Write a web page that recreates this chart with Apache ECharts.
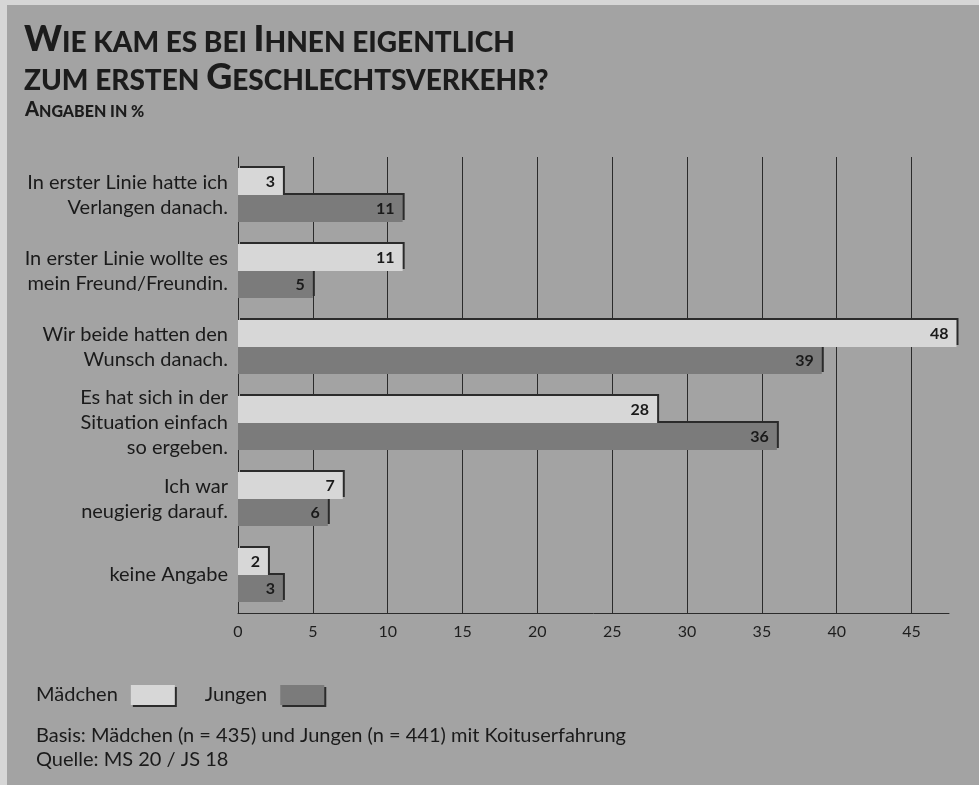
<!DOCTYPE html>
<html>
<head>
<meta charset="utf-8">
<script src="https://cdn.jsdelivr.net/npm/echarts@6/dist/echarts.min.js"></script>
<style>
  html, body { margin: 0; padding: 0; background: #d9d9d9; }
  #chart { width: 979px; height: 785px; }
</style>
</head>
<body>
<div id="chart"></div>
<script>
// Antworten (Kategorien von oben nach unten)
const categories = [
  'In erster Linie hatte ich\nVerlangen danach.',
  'In erster Linie wollte es\nmein Freund/Freundin.',
  'Wir beide hatten den\nWunsch danach.',
  'Es hat sich in der\nSituation einfach\nso ergeben.',
  'Ich war\nneugierig darauf.',
  'keine Angabe'
];
// Angaben in %
const maedchen = [3, 11, 48, 28, 7, 2];
const jungen = [11, 5, 39, 36, 6, 3];

const labelFont = 'Lato, "Open Sans", sans-serif';
const titleFont = 'Lato, "DejaVu Sans", sans-serif';

const chart = echarts.init(document.getElementById('chart'));

const barLabel = {
  show: true,
  position: 'insideRight',
  distance: 8,
  fontFamily: labelFont,
  fontWeight: 'bold',
  fontSize: 16,
  color: '#1a1a1a'
};

const option = {
  backgroundColor: '#a3a3a3',
  animation: false,
  graphic: [
    // heller Scanrand links und oben
    { type: 'rect', left: 0, top: 0, shape: { width: 7, height: 785 }, style: { fill: '#d6d6d6' }, silent: true },
    { type: 'rect', left: 0, top: 0, shape: { width: 979, height: 5 }, style: { fill: '#d6d6d6' }, silent: true }
  ],
  title: [
    {
      left: 19,
      top: 14,
      text: '{b|W}{s|IE KAM ES BEI }{b|I}{s|HNEN EIGENTLICH}\n{s|ZUM ERSTEN }{b|G}{s|ESCHLECHTSVERKEHR?}',
      textStyle: {
        rich: {
          b: { fontFamily: titleFont, fontWeight: 900, fontSize: 36, lineHeight: 38, verticalAlign: 'bottom', color: '#1c1c1c' },
          s: { fontFamily: titleFont, fontWeight: 900, fontSize: 28, lineHeight: 38, verticalAlign: 'bottom', color: '#1c1c1c' }
        }
      }
    },
    {
      left: 20,
      top: 91,
      text: '{b|A}{s|NGABEN IN %}',
      textStyle: {
        rich: {
          b: { fontFamily: titleFont, fontWeight: 900, fontSize: 20, lineHeight: 24, verticalAlign: 'bottom', color: '#1c1c1c' },
          s: { fontFamily: titleFont, fontWeight: 900, fontSize: 16, lineHeight: 24, verticalAlign: 'bottom', color: '#1c1c1c' }
        }
      }
    },
    {
      left: 31,
      top: 719,
      text: 'Basis: Mädchen (n = 435) und Jungen (n = 441) mit Koituserfahrung\nQuelle: MS 20 / JS 18',
      textStyle: {
        fontFamily: labelFont,
        fontWeight: 'normal',
        fontSize: 20,
        lineHeight: 24,
        color: '#1a1a1a'
      }
    }
  ],
  legend: {
    left: 31,
    top: 680,
    align: 'right',
    itemWidth: 44,
    itemHeight: 20,
    itemGap: 30,
    icon: 'rect',
    textStyle: { fontFamily: labelFont, fontSize: 20, color: '#1a1a1a', padding: [0, 8, 0, 0] },
    data: [
      { name: 'Mädchen', itemStyle: { color: '#d7d7d7', shadowColor: '#2b2b2b', shadowOffsetX: 2, shadowOffsetY: 2, shadowBlur: 0 } },
      { name: 'Jungen', itemStyle: { color: '#7b7b7b', shadowColor: '#2b2b2b', shadowOffsetX: 2, shadowOffsetY: 2, shadowBlur: 0 } }
    ]
  },
  grid: {
    left: 238,
    right: 30,
    top: 157,
    bottom: 172,
    containLabel: false
  },
  xAxis: {
    type: 'value',
    min: 0,
    max: 47.5,
    interval: 5,
    axisLine: { show: true, lineStyle: { color: '#2b2b2b', width: 1 } },
    axisTick: { show: false },
    axisLabel: {
      showMaxLabel: false,
      margin: 11,
      fontFamily: labelFont,
      fontSize: 16,
      color: '#1e1e1e'
    },
    splitLine: {
      show: true,
      showMinLine: false,
      showMaxLine: false,
      lineStyle: { color: '#2b2b2b', width: 1 }
    }
  },
  yAxis: {
    type: 'category',
    inverse: true,
    data: categories,
    axisLine: { show: true, lineStyle: { color: '#2b2b2b', width: 1 } },
    axisTick: { show: false },
    axisLabel: {
      margin: 10,
      fontFamily: labelFont,
      fontSize: 20,
      lineHeight: 25,
      color: '#1a1a1a'
    }
  },
  series: [
    {
      name: 'Mädchen',
      type: 'bar',
      data: maedchen,
      barWidth: 27,
      barGap: '0%',
      clip: false,
      z: 3,
      itemStyle: { color: '#d7d7d7', shadowColor: '#2b2b2b', shadowOffsetX: 2, shadowOffsetY: -2, shadowBlur: 0 },
      label: barLabel
    },
    {
      name: 'Jungen',
      type: 'bar',
      data: jungen,
      barWidth: 27,
      barGap: '0%',
      clip: false,
      z: 2,
      itemStyle: { color: '#7b7b7b', shadowColor: '#2b2b2b', shadowOffsetX: 2, shadowOffsetY: -2, shadowBlur: 0 },
      label: barLabel
    }
  ]
};

chart.setOption(option);
</script>
</body>
</html>
